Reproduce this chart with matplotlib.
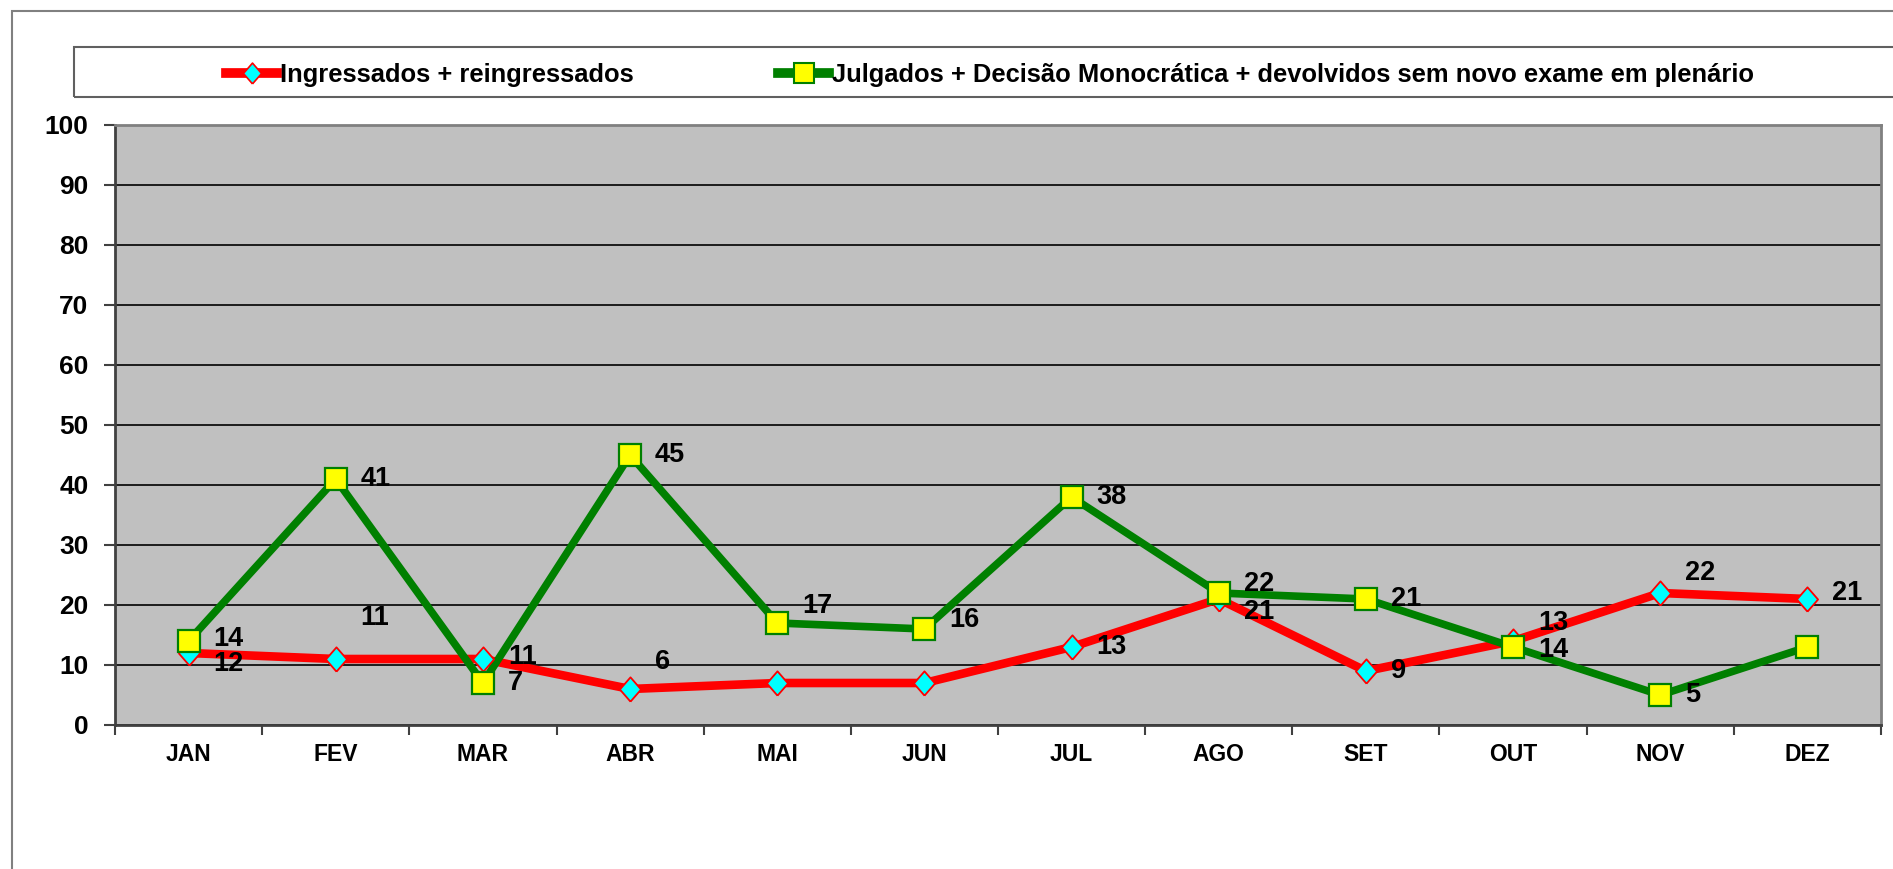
import matplotlib
matplotlib.use("Agg")
import matplotlib.pyplot as plt
from matplotlib.patches import Rectangle
from matplotlib.lines import Line2D
import numpy as np

plt.rcParams['font.family'] = ['Liberation Sans', 'DejaVu Sans']
plt.rcParams['font.weight'] = 'bold'

months = ["JAN", "FEV", "MAR", "ABR", "MAI", "JUN", "JUL", "AGO", "SET", "OUT", "NOV", "DEZ"]
ingressados = [12, 11, 11, 6, 7, 7, 13, 21, 9, 14, 22, 21]
julgados = [14, 41, 7, 45, 17, 16, 38, 22, 21, 13, 5, 13]
label_ing = "Ingressados + reingressados"
label_jul = "Julgados + Decisão Monocrática + devolvidos sem novo exame em plenário"
yticks = [0, 10, 20, 30, 40, 50, 60, 70, 80, 90, 100]

# label vertical offsets in pixels (None = label not shown)
dy_ing = [-11, 41, 2, 27, None, None, 0, -13, 0, -9, 20, 6]
dy_jul = [2, 0, 0, 0, 17, 9, 0, 9, 0, 24, 0, None]

W, H = 1893, 869
fig = plt.figure(figsize=(W / 100, H / 100), dpi=100)
fig.patch.set_facecolor('white')

# outer chart border
fig.patches.append(Rectangle((12 / W, -0.1), 1.2, 1 - 11 / H + 0.1, transform=fig.transFigure,
                             fill=False, edgecolor='#808080', lw=1.5, zorder=0))
# legend box
fig.patches.append(Rectangle((74 / W, 1 - 97 / H), 1.2, 50 / H, transform=fig.transFigure,
                             fill=False, edgecolor='#606060', lw=1.5, zorder=0))

ax = fig.add_axes([115 / W, 1 - 725 / H, (1881 - 115) / W, 600 / H])
ax.set_facecolor('#C0C0C0')
x = np.arange(len(months))

ax.plot(x, ingressados, color='#FF0000', lw=6.2, zorder=2, solid_capstyle='round')
ax.plot(x, julgados, color='#008000', lw=5.5, zorder=3, solid_capstyle='round')
diamond = [(0, -1.15), (1, 0), (0, 1.15), (-1, 0), (0, -1.15)]
ax.plot(x, ingressados, ls='none', marker=diamond, ms=17.5, mfc='#00FFFF', mec='#FF0000', mew=1.3, zorder=4)
ax.plot(x, julgados, ls='none', marker='s', ms=16.5, mfc='#FFFF00', mec='#008000', mew=1.6, zorder=5)

for xi, v, d in zip(x, ingressados, dy_ing):
    if d is None:
        continue
    ax.annotate(str(v), (xi, v), xytext=(25, d), textcoords='offset pixels', ha='left', va='center',
                fontsize=19.5, fontweight='bold', zorder=6)
for xi, v, d in zip(x, julgados, dy_jul):
    if d is None:
        continue
    ax.annotate(str(v), (xi, v), xytext=(25, d), textcoords='offset pixels', ha='left', va='center',
                fontsize=19.5, fontweight='bold', zorder=6)

ax.set_xlim(-0.5, len(months) - 0.5)
ax.set_ylim(0, 100)
ax.set_yticks(yticks)
ax.set_yticklabels([str(t) for t in yticks], fontsize=19, fontweight='bold')
ax.yaxis.grid(True, color='black', lw=1.2)
ax.set_axisbelow(True)
ax.tick_params(axis='y', length=8, width=1.5, color='#404040', pad=11)

ax.set_xticks(np.arange(-0.5, len(months), 1.0))
ax.set_xticklabels([])
ax.set_xticks(x, minor=True)
ax.set_xticklabels(months, minor=True, fontsize=16.5, fontweight='bold')
ax.tick_params(axis='x', which='major', length=7, width=1.5, color='#404040')
ax.tick_params(axis='x', which='minor', length=0, pad=13)

for s in ['left', 'bottom']:
    ax.spines[s].set_color('#404040')
    ax.spines[s].set_linewidth(2)
for s in ['top', 'right']:
    ax.spines[s].set_color('#808080')
    ax.spines[s].set_linewidth(2)

h1 = Line2D([], [], color='#FF0000', lw=7, marker=diamond, ms=15, mfc='#00FFFF', mec='#FF0000', mew=1.2)
h2 = Line2D([], [], color='#008000', lw=7, marker='s', ms=14, mfc='#FFFF00', mec='#008000', mew=1.5)
leg = fig.legend([h1, h2], [label_ing, label_jul], loc='center left', bbox_to_anchor=(226 / W, 1 - 75 / H),
                 ncol=2, frameon=False, prop={'weight': 'bold', 'size': 18.4},
                 handlelength=2.0, handletextpad=0.12, columnspacing=5.65, numpoints=1,
                 borderpad=0, borderaxespad=0)

fig.savefig('out.png', dpi=100)
